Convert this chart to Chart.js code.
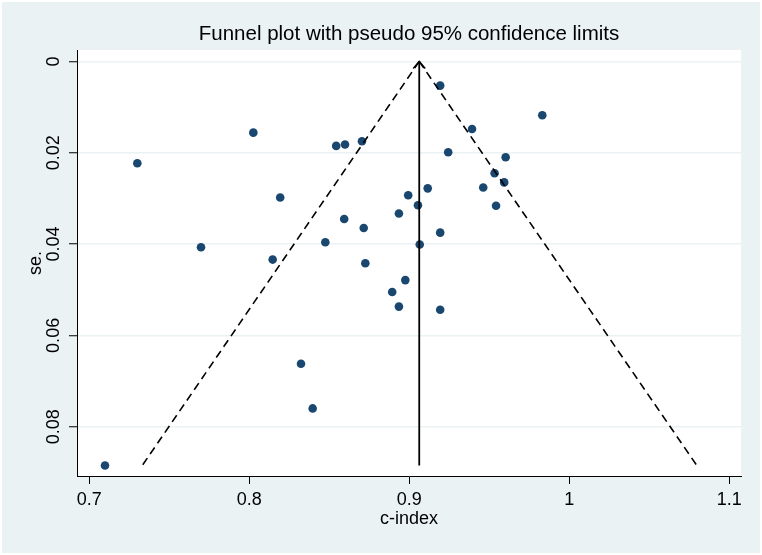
<!DOCTYPE html>
<html><head><meta charset="utf-8">
<script src="https://cdn.jsdelivr.net/npm/chart.js@4/dist/chart.umd.min.js"></script>
<style>html,body{margin:0;padding:0;background:#ffffff;} canvas{display:block;}</style>
</head><body>
<canvas id="c" width="762" height="555"></canvas>
<script>
// Study estimates (c-index) and their standard errors
const cIndex = [0.7301,0.8026,0.8544,0.8599,0.8705,0.8194,0.8994,0.9055,0.8936,0.8594,0.8716,0.8476,0.7699,0.8147,0.8726,0.8976,0.8894,0.8936,0.9194,0.9832,0.9393,0.9244,0.9603,0.9534,0.9594,0.9463,0.9116,0.9543,0.9194,0.9066,0.9194,0.8324,0.8397,0.7099];
const se     = [0.0223,0.0156,0.0185,0.0182,0.0175,0.0298,0.0293,0.0315,0.0333,0.0345,0.0365,0.0396,0.0407,0.0434,0.0442,0.0479,0.0505,0.0537,0.0053,0.0118,0.0148,0.0199,0.0210,0.0245,0.0265,0.0276,0.0278,0.0316,0.0375,0.0401,0.0544,0.0662,0.0760,0.0885];
// Pooled estimate and pseudo 95% limits
const pooled = 0.9063;
const seMax = 0.0885;
const ciLowerEnd = 0.7332;
const ciUpperEnd = 1.0798;
const xTicks = [0.7,0.8,0.9,1.0,1.1];
const xTickLabels = ['0.7','0.8','0.9','1','1.1'];
const yTicks = [0,0.02,0.04,0.06,0.08];
const yTickLabels = ['0','0.02','0.04','0.06','0.08'];

const FONT = "'Liberation Sans', Arial, sans-serif";
const NAVY = '#1A476F';
const BG = '#EAF2F3';

const points = cIndex.map((v,i)=>({x:v, y:se[i]}));

const bgPlugin = {
  id:'bg',
  beforeDraw(chart){
    const ctx = chart.ctx, a = chart.chartArea;
    ctx.save();
    ctx.fillStyle = '#ffffff';
    ctx.fillRect(0,0,chart.width,chart.height);
    ctx.fillStyle = BG;
    ctx.fillRect(2,2,chart.width-4,chart.height-4);
    ctx.fillStyle = '#ffffff';
    ctx.fillRect(a.left,a.top,a.right-a.left,a.bottom-a.top);
    ctx.restore();
  }
};
const arrowPlugin = {
  id:'arrow',
  afterDatasetsDraw(chart){
    const ctx = chart.ctx;
    const px = chart.scales.x.getPixelForValue(pooled);
    const py = chart.scales.y.getPixelForValue(0);
    ctx.save();
    ctx.strokeStyle = '#000';
    ctx.lineWidth = 1.5;
    ctx.beginPath();
    ctx.moveTo(px-6, py+7);
    ctx.lineTo(px, py);
    ctx.lineTo(px+6, py+7);
    ctx.stroke();
    ctx.restore();
  }
};

new Chart(document.getElementById('c'), {
  type:'scatter',
  data:{
    datasets:[
      {type:'line', data:[{x:pooled,y:0},{x:pooled,y:seMax}], borderColor:'#000', borderWidth:1.8, pointRadius:0, showLine:true, order:0},
      {type:'line', data:[{x:pooled,y:0},{x:ciLowerEnd,y:seMax}], borderColor:'#000', borderWidth:1.6, borderDash:[8,5], pointRadius:0, showLine:true, order:0},
      {type:'line', data:[{x:pooled,y:0},{x:ciUpperEnd,y:seMax}], borderColor:'#000', borderWidth:1.6, borderDash:[8,5], pointRadius:0, showLine:true, order:0},
      {data:points, backgroundColor:NAVY, borderColor:NAVY, borderWidth:0, pointRadius:4.3, order:1}
    ]
  },
  options:{
    responsive:false,
    animation:false,
    layout:{padding:{left:0,right:21,top:0,bottom:0}},
    plugins:{
      legend:{display:false},
      tooltip:{enabled:false},
      title:{display:true, text:'Funnel plot with pseudo 95% confidence limits', fullSize:false,
        font:{family:FONT,size:20.5,weight:'normal',lineHeight:1.2}, color:'#000', padding:{top:22.2,bottom:3.2}}
    },
    scales:{
      x:{
        type:'linear', min:0.6924, max:1.1074,
        afterBuildTicks(s){ s.ticks = xTicks.map(v=>({value:v})); },
        afterFit(s){ s.height = 79; },
        grid:{drawOnChartArea:false, drawTicks:true, tickLength:8, tickColor:'#000', tickWidth:1},
        border:{display:true, color:'#000', width:1},
        ticks:{callback:(v,i)=>xTickLabels[i], font:{family:FONT,size:18}, color:'#000', padding:5, maxRotation:0, autoSkip:false},
        title:{display:true, text:'c-index', font:{family:FONT,size:18,lineHeight:1.2}, color:'#000', padding:{top:0,bottom:25.2}}
      },
      y:{
        type:'linear', reverse:true, min:-0.0025, max:0.0908,
        afterBuildTicks(s){ s.ticks = yTicks.map(v=>({value:v})); },
        afterFit(s){ s.width = 77; },
        grid:{drawOnChartArea:true, color:BG, lineWidth:1.5, drawTicks:true, tickLength:8, tickColor:'#000', tickWidth:1},
        border:{display:true, color:'#000', width:1},
        ticks:{callback:(v,i)=>yTickLabels[i], font:{family:FONT,size:18}, color:'#000', padding:-2.5, minRotation:90, maxRotation:90, crossAlign:'center', autoSkip:false},
        title:{display:true, text:'se.', font:{family:FONT,size:18,lineHeight:1.2}, color:'#000', padding:{top:25.2,bottom:0}}
      }
    }
  },
  plugins:[bgPlugin, arrowPlugin]
});
</script>
</body></html>
